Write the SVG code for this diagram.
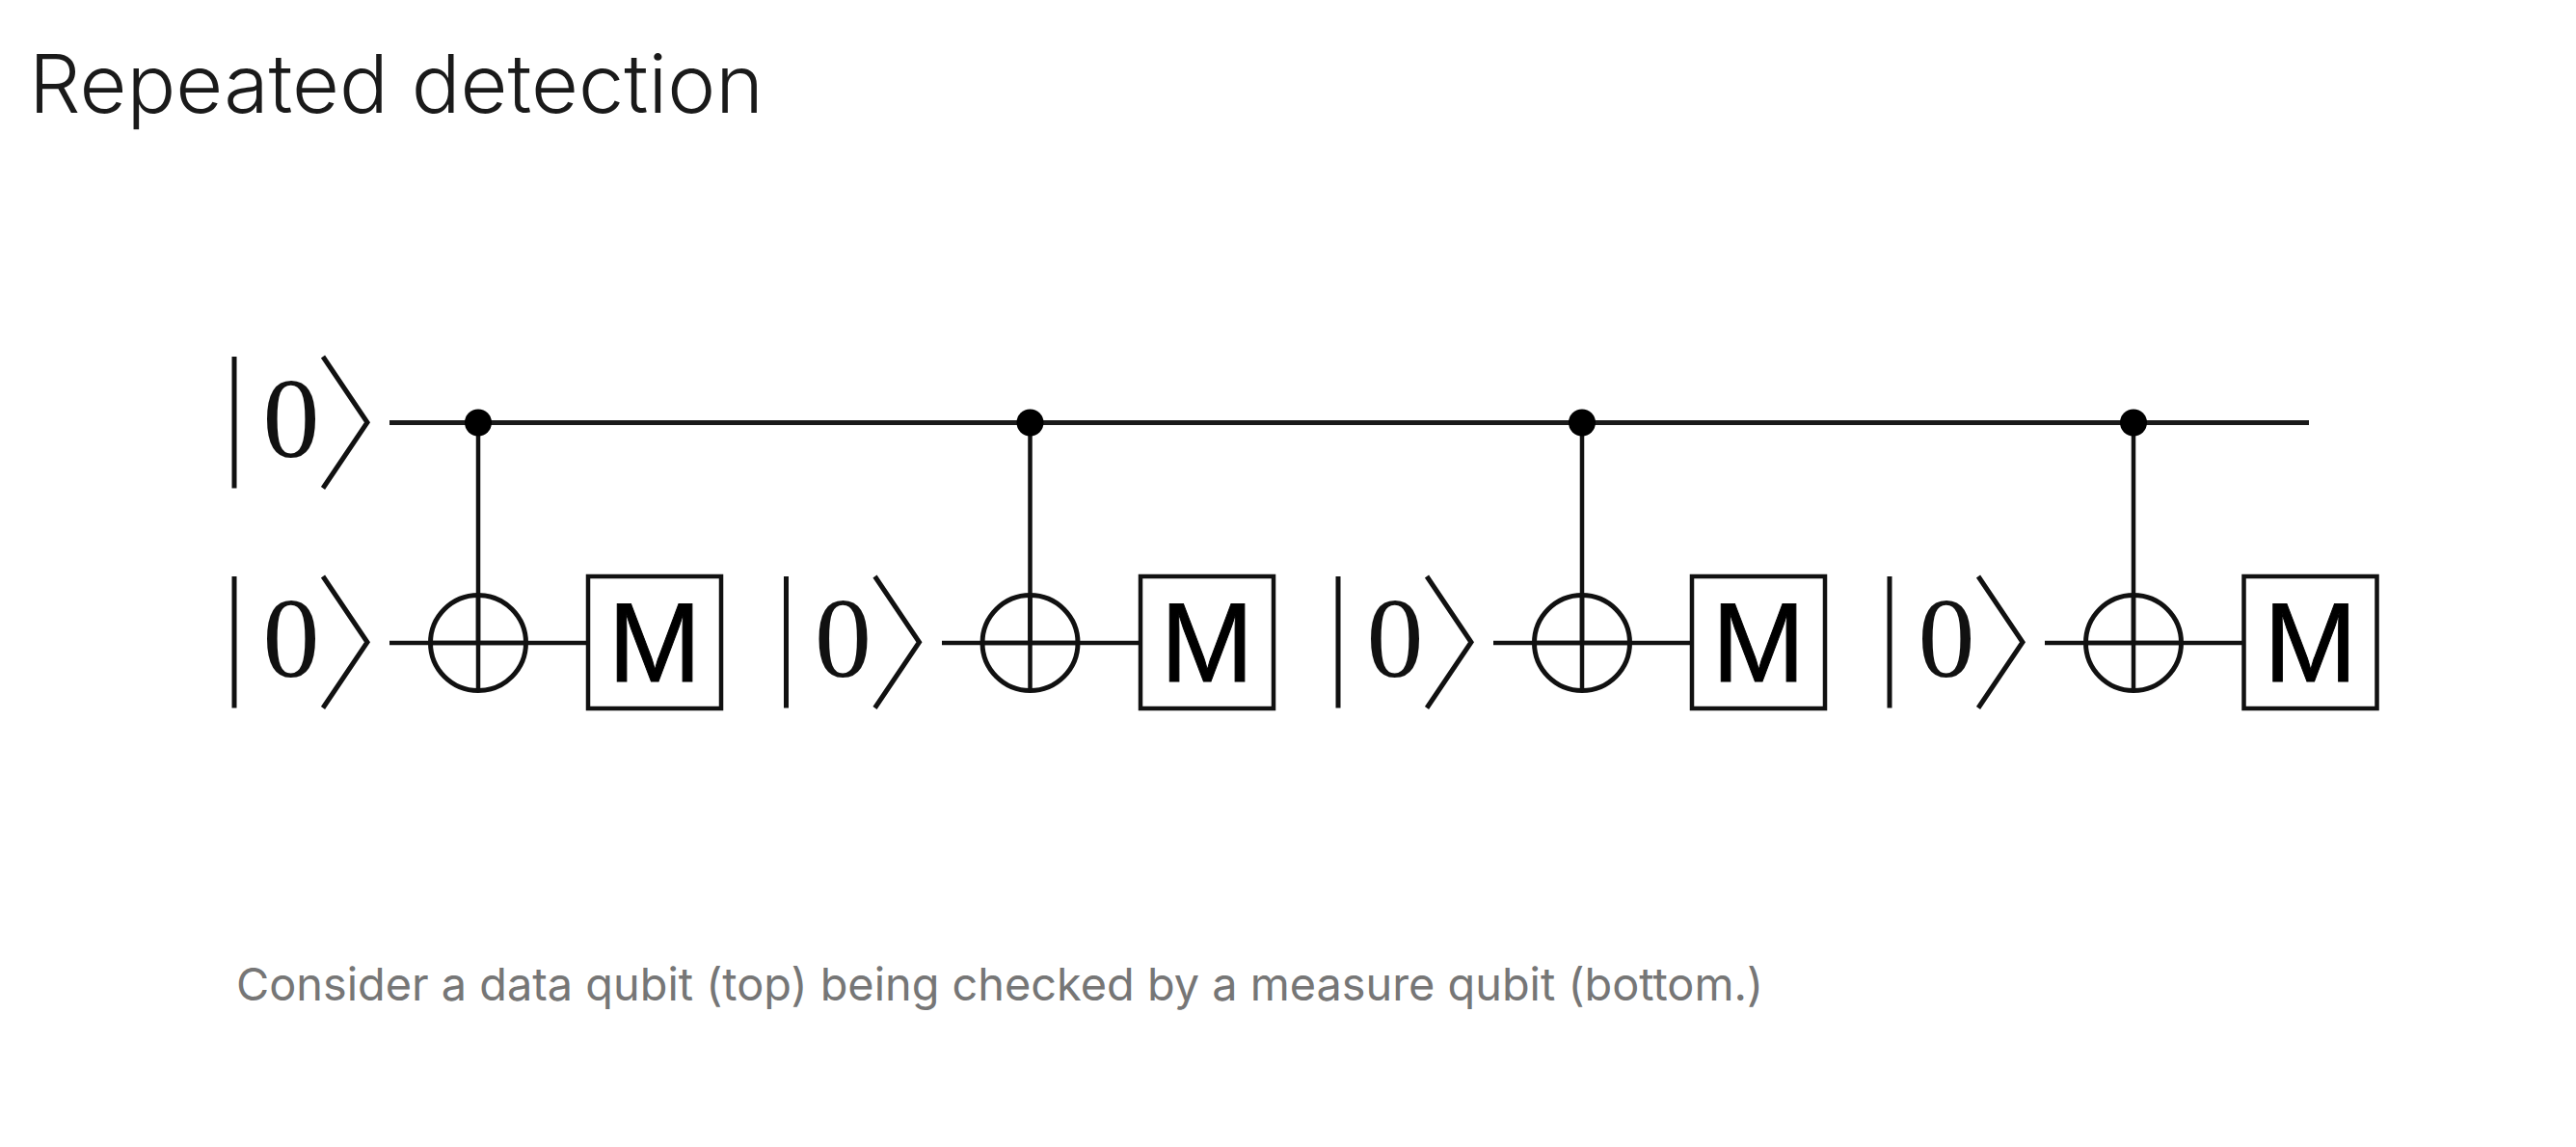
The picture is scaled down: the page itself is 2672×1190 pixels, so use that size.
<svg xmlns="http://www.w3.org/2000/svg" width="2672" height="1190" viewBox="0 0 2672 1190">
<style>
.w{fill:none;stroke:#1a1a1a;stroke-width:5}
.t{fill:none;stroke:#111;stroke-width:4.5}
.k{fill:none;stroke:#111;stroke-width:5}
.z{font-family:"Liberation Serif",serif;font-size:118px;fill:#111;text-anchor:middle}
.m{font-family:"Liberation Sans",Arial,sans-serif;font-size:116px;fill:#000;stroke:#000;stroke-width:1;text-anchor:middle}
.title{font-family:"Inter",sans-serif;font-weight:350;font-size:84px;fill:#1a1a1a}
.cap{font-family:"Inter",sans-serif;font-weight:400;font-size:47px;fill:#767676}
</style>
<defs>
<g id="ket"><path class="k" d="M0 0V136.500M92 0L138 68.250L92 136.500"/><text class="z" x="59" y="104">0</text></g>
<g id="cnot"><circle class="k" cx="0" cy="0" r="49.500"/><path class="t" d="M-49.500 0H49.500M0 -49.500V49.500"/></g>
<g id="meas"><rect class="t" x="0" y="0" width="138" height="137" fill="#fff"/><text class="m" x="69" y="109">M</text></g>
</defs>
<rect width="2672" height="1190" fill="#fff"/>
<text id="title" class="title" x="30" y="117" textLength="762" lengthAdjust="spacingAndGlyphs">Repeated detection</text>
<g id="connectors">
<path class="w" d="M404 438.500H2395"/>
<path class="t" d="M496 438.500V667M1068.500 438.500V667M1641 438.500V667M2213 438.500V667"/>
<path class="t" d="M404 667H610M977 667H1183M1549 667H1755M2121 667H2327"/>
</g>
<g id="ket-data"><use href="#ket" x="243" y="370"/></g>
<g id="ket-measure-1"><use href="#ket" x="243" y="598"/></g>
<g id="ket-measure-2"><use href="#ket" x="815.500" y="598"/></g>
<g id="ket-measure-3"><use href="#ket" x="1388" y="598"/></g>
<g id="ket-measure-4"><use href="#ket" x="1960" y="598"/></g>
<g id="control-1"><circle cx="496" cy="438.500" r="14"/></g>
<g id="control-2"><circle cx="1068.500" cy="438.500" r="14"/></g>
<g id="control-3"><circle cx="1641" cy="438.500" r="14"/></g>
<g id="control-4"><circle cx="2213" cy="438.500" r="14"/></g>
<g id="cnot-1"><use href="#cnot" x="496" y="667"/></g>
<g id="cnot-2"><use href="#cnot" x="1068.500" y="667"/></g>
<g id="cnot-3"><use href="#cnot" x="1641" y="667"/></g>
<g id="cnot-4"><use href="#cnot" x="2213" y="667"/></g>
<g id="measure-1"><use href="#meas" x="610" y="598"/></g>
<g id="measure-2"><use href="#meas" x="1183" y="598"/></g>
<g id="measure-3"><use href="#meas" x="1755" y="598"/></g>
<g id="measure-4"><use href="#meas" x="2327.500" y="598"/></g>
<text id="caption" class="cap" x="245" y="1038" textLength="1584" lengthAdjust="spacingAndGlyphs">Consider a data qubit (top) being checked by a measure qubit (bottom.)</text>
</svg>
